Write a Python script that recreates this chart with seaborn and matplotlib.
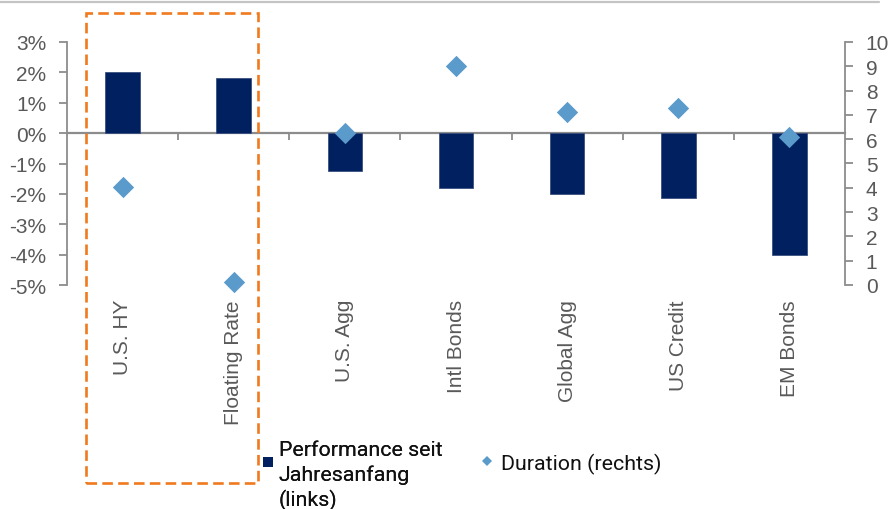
import numpy as np
import pandas as pd
import seaborn as sns
import matplotlib.pyplot as plt
import matplotlib.transforms as mtransforms
from matplotlib.patches import Rectangle, Patch
from matplotlib.lines import Line2D
from matplotlib.legend_handler import HandlerPatch

# Data
categories = ["U.S. HY", "Floating Rate", "U.S. Agg", "Intl Bonds",
              "Global Agg", "US Credit", "EM Bonds"]
performance = [2.0, 1.8, -1.25, -1.8, -2.0, -2.15, -4.0]   # % seit Jahresanfang (links)
duration = [4.05, 0.12, 6.25, 9.0, 7.1, 7.3, 6.1]           # Jahre (rechts)
left_ticks = list(range(-5, 4))
left_labels = [f"{t}%" for t in left_ticks]
right_ticks = list(range(0, 11))
highlighted = ["U.S. HY", "Floating Rate"]

NAVY = "#002060"
LIGHT = "#5B9BCB"
GRAY = "#8C8C8C"
TICK_TXT = "#595959"
ORANGE = "#F07A1E"

sns.set_theme(style="white")
plt.rcParams["font.family"] = ["Liberation Sans", "DejaVu Sans"]

fig = plt.figure(figsize=(8.88, 5.10), dpi=100)
ax = fig.add_axes([67 / 888, 1 - 286 / 510, (845 - 67) / 888, 243 / 510])

df = pd.DataFrame({"Kategorie": categories,
                   "Performance": performance,
                   "Duration": duration})
positions = np.arange(len(categories))

# Bars: performance on the left axis
sns.barplot(data=df, x="Kategorie", y="Performance", color=NAVY, saturation=1,
            width=0.31, errorbar=None, edgecolor="#3B5080", linewidth=0.6,
            ax=ax, zorder=2)

ax.set_xlim(-0.5, len(categories) - 0.5)
ax.set_ylim(left_ticks[0], left_ticks[-1])
ax.set_xlabel("")
ax.set_ylabel("")
ax.set_yticks(left_ticks, labels=left_labels)

# Horizontal axis drawn through zero with ticks between the categories
ax.spines["bottom"].set_position(("data", 0))
ax.spines["bottom"].set_color(GRAY)
ax.spines["bottom"].set_linewidth(1.6)
ax.spines["bottom"].set_zorder(1)
ax.spines["left"].set_color(GRAY)
ax.spines["left"].set_linewidth(1.3)
ax.spines["top"].set_visible(False)
ax.spines["right"].set_visible(False)
ax.set_xticks(positions[:-1] + 0.5, labels=[""] * (len(categories) - 1))
ax.tick_params(axis="x", direction="out", length=5, width=1.3, color=GRAY,
               bottom=True, labelbottom=False)
ax.tick_params(axis="y", direction="out", length=6, width=1.3, color=GRAY,
               left=True, pad=9, labelsize=15, labelcolor=TICK_TXT)

# Category names below the plot area
label_tr = mtransforms.blended_transform_factory(ax.transData, ax.transAxes)
for pos, name in zip(positions, categories):
    ax.text(pos, -0.058, name, transform=label_tr, rotation=90,
            ha="center", va="top", fontsize=15, color=TICK_TXT)

# Diamonds: duration on the right axis
ax2 = ax.twinx()
sns.scatterplot(x=positions, y=duration, marker="D", s=118, color=LIGHT,
                linewidth=0, ax=ax2, zorder=3)
for coll in ax2.collections:
    coll.set_clip_on(False)
ax2.set_ylim(right_ticks[0], right_ticks[-1])
ax2.set_xlim(-0.5, len(categories) - 0.5)
ax2.set_yticks(right_ticks)
ax2.set_ylabel("")
for side in ["top", "bottom", "left"]:
    ax2.spines[side].set_visible(False)
ax2.spines["right"].set_color(GRAY)
ax2.spines["right"].set_linewidth(1.3)
ax2.tick_params(axis="y", direction="out", length=6, width=1.3, color=GRAY,
                right=True, pad=9, labelsize=15, labelcolor=TICK_TXT)

# Dashed frame around the highlighted categories
i0 = categories.index(highlighted[0])
i1 = categories.index(highlighted[-1])
frame = Rectangle((i0 - 0.33, -0.815), (i1 + 0.215) - (i0 - 0.33), 1.119 + 0.815,
                  transform=label_tr, fill=False, edgecolor=ORANGE,
                  linewidth=1.9, linestyle=(0, (4, 2)), clip_on=False, zorder=5)
ax2.add_patch(frame)

# Thin rule across the top of the figure
fig.add_artist(Line2D([0, 0.99], [1 - 3 / 510] * 2, transform=fig.transFigure,
                      color="#C4C4C4", linewidth=1.6))

# Legend
legend_font = {"family": "Roboto", "size": 15.4}


def raised_square(legend, orig_handle, xdescent, ydescent, width, height, fontsize):
    side = 7.5
    cy = height / 2 - ydescent + 9.5
    return Rectangle((width - xdescent - side, cy - side / 2), side, side)


leg1 = fig.legend(handles=[Patch(facecolor=NAVY, edgecolor="none",
                                 label="Performance seit\nJahresanfang\n(links)")],
                  handler_map={Patch: HandlerPatch(patch_func=raised_square)},
                  loc="center left", bbox_to_anchor=(258 / 888, 1 - 476 / 510),
                  frameon=False, borderpad=0, borderaxespad=0,
                  handlelength=0.7, handletextpad=0.26, prop=legend_font,
                  labelcolor="#111111")
for t in leg1.get_texts():
    t.set_linespacing(1.33)
fig.add_artist(leg1)
leg2 = fig.legend(handles=[Line2D([], [], linestyle="none", marker="D",
                                  markersize=5.1, color=LIGHT, markeredgewidth=0,
                                  label="Duration (rechts)")],
                  loc="center left", bbox_to_anchor=(480 / 888, 1 - 464 / 510),
                  frameon=False, borderpad=0, borderaxespad=0,
                  handlelength=0.7, handletextpad=0.28, prop=legend_font,
                  labelcolor="#111111")

fig.savefig("out.png", dpi=100)
